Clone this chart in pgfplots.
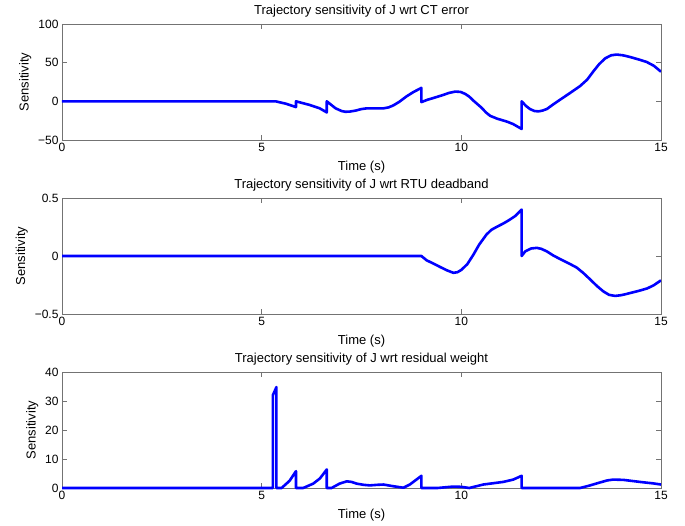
\documentclass[border=0pt]{standalone}
\usepackage{fontspec}
\setmainfont{Liberation Sans}
\usepackage{pgfplots}
\pgfplotsset{compat=1.18}
\pgfplotsset{msty/.style={
  scale only axis, width=599pt, height=116pt,
  xmin=0, xmax=15, xtick={0,5,10,15},
  tick align=inside,
  axis line style={black!55}, tick style={black!55, line width=0.5pt},
  major tick length=5pt,
  tick label style={font=\fontsize{12}{12}\selectfont},
  label style={font=\fontsize{13}{13}\selectfont},
  xlabel style={yshift=-2pt},
  title style={font=\fontsize{13}{13}\selectfont, yshift=-3pt},
  xlabel={Time (s)}, ylabel={Sensitivity},
  /pgf/number format/assume math mode=true,
  anchor=south west,
  every axis plot/.append style={color=blue, line width=2.6pt, line join=round, no marks},
}}
\begin{document}
\begin{tikzpicture}
\useasboundingbox (0pt,0pt) rectangle (685pt,525pt);
% Top
\begin{axis}[msty, at={(62pt,385pt)},
  title={Trajectory sensitivity of J wrt CT error},
  ymin=-50, ymax=100, ytick={-50,0,50,100}, yticklabels={−50,0,50,100}]
\addplot coordinates {(0,0) (5.35,0) (5.6,-3) (5.86,-7.4) (5.86,0) (6.21,-4.8) (6.45,-9) (6.63,-14.3) (6.63,0) (6.85,-9) (7.0,-12.5) (7.09,-13.5) (7.2,-13.3) (7.35,-12) (7.5,-10) (7.63,-9.1) (8.05,-9.1) (8.18,-7.8) (8.3,-5.2) (8.45,-0.5) (8.63,6.5) (8.8,12) (9.0,17.4) (9.0,-1) (9.15,2) (9.3,4.3) (9.5,7.5) (9.7,11) (9.85,12.6) (9.98,12.2) (10.1,9.5) (10.2,6) (10.3,1) (10.5,-8) (10.62,-14.5) (10.72,-18.7) (10.9,-22.5) (11.13,-26) (11.3,-29.5) (11.51,-35.7) (11.51,0) (11.62,-6) (11.72,-10) (11.83,-12.5) (11.93,-13) (12.03,-12) (12.14,-10) (12.3,-4) (12.47,2) (12.7,10) (12.97,19.6) (13.15,28) (13.31,39) (13.45,48) (13.6,55.5) (13.75,59.5) (13.89,60.5) (14.05,59.5) (14.22,57.4) (14.45,54) (14.64,50.9) (14.82,46) (15,38.3)};
\end{axis}
% Middle
\begin{axis}[msty, at={(62pt,211pt)},
  title={Trajectory sensitivity of J wrt RTU deadband},
  ymin=-0.5, ymax=0.5, ytick={-0.5,0,0.5}, yticklabels={−0.5,0,0.5}]
\addplot coordinates {(0,0) (9.0,0) (9.13,-0.037) (9.3,-0.065) (9.47,-0.095) (9.65,-0.125) (9.8,-0.145) (9.9,-0.14) (10.0,-0.12) (10.15,-0.07) (10.3,0.01) (10.45,0.1) (10.63,0.185) (10.75,0.225) (10.88,0.25) (11.05,0.28) (11.18,0.306) (11.35,0.345) (11.51,0.40) (11.51,0) (11.6,0.04) (11.75,0.065) (11.89,0.07) (12.0,0.062) (12.14,0.04) (12.3,0.005) (12.47,-0.026) (12.7,-0.065) (12.89,-0.10) (13.05,-0.145) (13.22,-0.20) (13.4,-0.26) (13.56,-0.306) (13.7,-0.335) (13.85,-0.344) (14.0,-0.338) (14.14,-0.327) (14.47,-0.298) (14.65,-0.28) (14.81,-0.254) (15,-0.21)};
\end{axis}
% Bottom
\begin{axis}[msty, at={(62pt,37pt)},
  title={Trajectory sensitivity of J wrt residual weight},
  ymin=0, ymax=40, ytick={0,10,20,30,40}, clip=false]
\addplot coordinates {(0,0) (5.28,0) (5.28,32) (5.37,34.8) (5.37,0) (5.5,0) (5.7,2.5) (5.86,5.8) (5.86,0) (6.04,0) (6.29,1.5) (6.46,3.3) (6.63,6.4) (6.63,0) (6.75,0) (6.95,1.5) (7.13,2.3) (7.25,2.1) (7.38,1.5) (7.55,1.1) (7.71,0.9) (7.9,1.1) (8.05,1.2) (8.3,0.6) (8.55,0.1) (8.71,1.2) (9.0,4.2) (9.0,0) (9.4,0) (9.8,0.5) (10.0,0.4) (10.2,0) (10.55,1.2) (11.05,2.1) (11.3,2.9) (11.51,4.2) (11.51,0) (12.97,0) (13.2,0.8) (13.47,1.9) (13.65,2.6) (13.8,2.9) (14.06,2.8) (14.47,2.1) (14.8,1.6) (15,1.2)};
\end{axis}
\end{tikzpicture}
\end{document}
